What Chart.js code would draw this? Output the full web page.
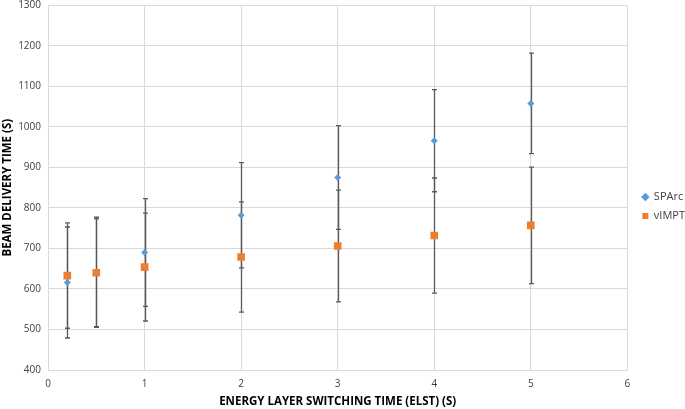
<!DOCTYPE html>
<html>
<head>
<meta charset="utf-8">
<script src="https://cdn.jsdelivr.net/npm/chart.js@4/dist/chart.umd.min.js"></script>
<style>
  html, body { margin: 0; padding: 0; background: #fff; overflow: hidden; }
  #wrap { width: 685px; height: 409px; position: relative; overflow: hidden; }
</style>
</head>
<body>
<div id="wrap"><canvas id="c" width="688" height="409"></canvas></div>
<script>
// ELST values (s)
const elst = [0.2, 0.5, 1, 2, 3, 4, 5];
// Beam delivery time means (s)
const sparcMean = [616, 641, 690, 782, 875, 966, 1058];
const vimptMean = [633, 640, 654, 679, 706, 732, 757];
// Error bar half-lengths (s)
const sparcErr = [137, 136, 133, 130, 128, 126, 124];
const vimptErr = [130, 133, 133, 136, 138, 142, 144];
const seriesNames = ['SPArc', 'vIMPT'];
const yTicks = [400, 500, 600, 700, 800, 900, 1000, 1100, 1200, 1300];
const xTicks = [0, 1, 2, 3, 4, 5, 6];

const toPts = (xs, ys) => xs.map((x, i) => ({ x: x, y: ys[i] }));

const errorBars = {
  id: 'errorBars',
  afterLayout(chart) {
    // nudge legend slightly right, as in the original
    if (chart.legend) { chart.legend.left += 7; chart.legend.right += 7; }
  },
  beforeDatasetsDraw(chart) {
    const ctx = chart.ctx;
    const xs = chart.scales.x, ys = chart.scales.y;
    const errs = [sparcErr, vimptErr];
    ctx.save();
    ctx.strokeStyle = '#595959';
    ctx.lineWidth = 1.3;
    chart.data.datasets.forEach((ds, di) => {
      ds.data.forEach((p, i) => {
        const e = errs[di][i];
        const px = Math.round(xs.getPixelForValue(p.x)) + 0.5;
        const top = ys.getPixelForValue(p.y + e);
        const bot = ys.getPixelForValue(p.y - e);
        ctx.beginPath();
        ctx.moveTo(px, top); ctx.lineTo(px, bot);
        ctx.moveTo(px - 2.5, top); ctx.lineTo(px + 2.5, top);
        ctx.moveTo(px - 2.5, bot); ctx.lineTo(px + 2.5, bot);
        ctx.stroke();
      });
    });
    ctx.restore();
  }
};

Chart.defaults.font.family = '"Open Sans", "Liberation Sans", sans-serif';
Chart.defaults.color = '#595959';

new Chart(document.getElementById('c'), {
  type: 'scatter',
  data: {
    datasets: [
      {
        label: seriesNames[0],
        data: toPts(elst, sparcMean),
        pointStyle: 'rectRot',
        pointRadius: 3.5,
        backgroundColor: '#5B9BD5',
        borderColor: '#5B9BD5',
        borderWidth: 0,
        order: 2
      },
      {
        label: seriesNames[1],
        data: toPts(elst, vimptMean),
        pointStyle: 'rect',
        pointRadius: 5.4,
        backgroundColor: '#ED7D31',
        borderColor: '#ED7D31',
        borderWidth: 0,
        order: 1
      }
    ]
  },
  options: {
    responsive: false,
    animation: false,
    devicePixelRatio: 1,
    layout: { padding: { top: 4, right: 0, left: 0, bottom: 0 } },
    plugins: {
      tooltip: { enabled: false },
      legend: {
        position: 'right',
        labels: {
          usePointStyle: true,
          boxWidth: 6,
          boxHeight: 6,
          padding: 8,
          color: '#404040',
          font: { size: 11 },
          sort: (a, b) => a.datasetIndex - b.datasetIndex
        }
      }
    },
    scales: {
      x: {
        type: 'linear',
        min: 0, max: 6,
        afterBuildTicks(s) { s.ticks = xTicks.map(v => ({ value: v })); },
        afterFit(s) { s.height = 39; },
        ticks: { padding: 8, font: { size: 10 }, color: '#404040',
                 callback: v => String(v) },
        grid: { color: '#d9d9d9', drawTicks: false },
        border: { color: '#d9d9d9' },
        title: {
          display: true,
          text: 'ENERGY LAYER SWITCHING TIME (ELST) (S)',
          font: { size: 11.5, weight: 'bold' },
          color: '#000',
          padding: { top: 0, bottom: 0 }
        }
      },
      y: {
        min: 400, max: 1300,
        afterBuildTicks(s) { s.ticks = yTicks.map(v => ({ value: v })); },
        ticks: { padding: 7, font: { size: 10 }, color: '#404040',
                 callback: v => String(v) },
        grid: { color: '#d9d9d9', drawTicks: false },
        border: { color: '#d9d9d9' },
        afterFit(s) { s.paddingTop = 0; s.width = 48; },
        title: {
          display: true,
          text: 'BEAM DELIVERY TIME (S)',
          font: { size: 11.5, weight: 'bold' },
          color: '#000',
          padding: { top: 1, bottom: 2 }
        }
      }
    }
  },
  plugins: [errorBars]
});
</script>
</body>
</html>
